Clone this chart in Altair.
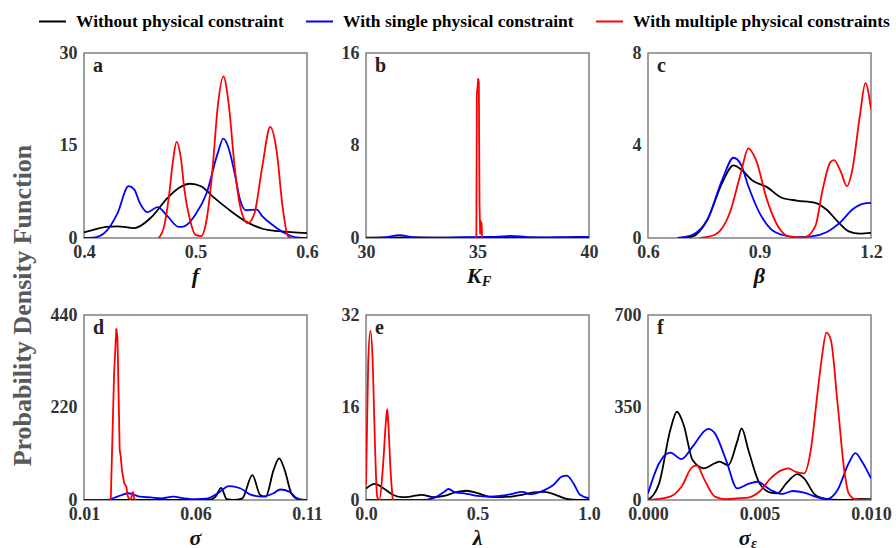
import altair as alt
import pandas as pd

SERIF = "Times New Roman, Liberation Serif, serif"
SERIES = ["Without physical constraint", "With single physical constraint",
          "With multiple physical constraints"]
COLORS = ["#000000", "#0000ff", "#ff0000"]

# ---- panel a: f ----
A_BLACK = [(0.400, 0.9), (0.410, 1.4), (0.420, 1.8), (0.430, 1.9), (0.445, 1.6), (0.460, 3.3),
           (0.475, 6.5), (0.485, 8.1), (0.495, 8.8), (0.505, 8.4), (0.515, 6.8), (0.530, 4.6),
           (0.545, 2.7), (0.560, 1.5), (0.575, 1.1), (0.600, 0.8)]
A_BLUE = [(0.400, 0.0), (0.410, 0.1), (0.420, 1.1), (0.430, 4.0), (0.440, 8.4), (0.445, 7.9),
          (0.450, 5.7), (0.457, 4.2), (0.466, 5.0), (0.475, 3.5), (0.485, 1.8), (0.490, 1.9),
          (0.500, 3.8), (0.510, 7.3), (0.520, 13.8), (0.525, 16.1), (0.530, 14.4), (0.535, 10.6),
          (0.540, 6.2), (0.545, 4.5), (0.555, 4.6), (0.560, 3.5), (0.570, 2.0), (0.580, 0.8),
          (0.590, 0.1), (0.600, 0.0)]
A_RED = [(0.467, 0.0), (0.472, 2.0), (0.476, 6.5), (0.480, 12.8), (0.483, 15.6), (0.487, 12.8),
         (0.490, 7.9), (0.495, 3.0), (0.500, 0.5), (0.505, 0.3), (0.510, 3.0), (0.515, 10.6),
         (0.520, 21.4), (0.525, 26.2), (0.530, 21.4), (0.535, 11.7), (0.540, 5.2), (0.547, 2.4),
         (0.553, 4.1), (0.560, 11.7), (0.567, 18.0), (0.573, 13.8), (0.578, 5.2), (0.583, 0.3),
         (0.586, 0.0)]

# ---- panel b: K_F ----
B_BLACK = [(30, 0.02), (32, 0.05), (34, 0.03), (36, 0.05), (38, 0.03), (40, 0.02)]
B_BLUE = [(30, 0.0), (30.8, 0.05), (31.5, 0.25), (32.2, 0.05), (33, 0.02), (34, 0.05), (35, 0.08),
          (35.8, 0.1), (36.5, 0.18), (37.2, 0.08), (38, 0.05), (39, 0.08), (40, 0.1)]
B_RED = [(34.90, 0.0), (34.95, 0.2), (34.97, 12.4), (35.00, 13.0), (35.03, 13.8), (35.06, 13.4),
         (35.09, 3.0), (35.12, 0.3), (35.15, 1.4), (35.18, 1.3), (35.21, 0.0)]

# ---- panel c: beta ----
C_BLACK = [(0.68, 0.0), (0.72, 0.07), (0.76, 0.8), (0.80, 2.4), (0.83, 3.14), (0.85, 2.97),
           (0.88, 2.5), (0.92, 2.2), (0.96, 1.74), (1.00, 1.62), (1.05, 1.52), (1.08, 1.23),
           (1.11, 0.72), (1.14, 0.29), (1.17, 0.19), (1.20, 0.22)]
C_BLUE = [(0.68, 0.0), (0.72, 0.14), (0.76, 0.8), (0.80, 2.53), (0.83, 3.47), (0.85, 3.18),
          (0.87, 2.24), (0.90, 1.09), (0.93, 0.39), (0.96, 0.14), (1.00, 0.04), (1.04, 0.07),
          (1.08, 0.25), (1.12, 0.72), (1.15, 1.23), (1.18, 1.49), (1.20, 1.52)]
C_RED = [(0.74, 0.0), (0.78, 0.14), (0.82, 1.09), (0.85, 2.82), (0.87, 3.88), (0.89, 3.4),
         (0.92, 1.66), (0.95, 0.5), (0.98, 0.07), (1.02, 0.03), (1.05, 0.5), (1.07, 2.1),
         (1.09, 3.26), (1.10, 3.37), (1.12, 2.82), (1.135, 2.24), (1.15, 2.97), (1.17, 5.28),
         (1.185, 6.7), (1.20, 5.57)]

# ---- panel d: sigma ----
D_BLACK = [(0.010, 0), (0.066, 0), (0.069, 8), (0.0715, 29), (0.074, 2), (0.077, 0), (0.081, 4),
           (0.0855, 59), (0.089, 12), (0.0915, 8), (0.095, 71), (0.0975, 99), (0.100, 71),
           (0.103, 16), (0.106, 2), (0.110, 0)]
D_BLUE = [(0.010, 0), (0.020, 0), (0.025, 8), (0.030, 16), (0.035, 8), (0.040, 6), (0.045, 4),
          (0.050, 8), (0.055, 4), (0.060, 2), (0.065, 3), (0.070, 16), (0.075, 33), (0.080, 28),
          (0.085, 12), (0.090, 8), (0.095, 16), (0.098, 25), (0.102, 20), (0.105, 6), (0.108, 0),
          (0.110, 0)]
D_RED = [(0.0220, 0), (0.0235, 301), (0.0245, 408), (0.0250, 388), (0.0255, 254), (0.0260, 119),
         (0.0265, 103), (0.0270, 71), (0.0275, 56), (0.0280, 40), (0.0290, 32), (0.0295, 12),
         (0.0300, 4), (0.0310, 0), (0.0315, 12), (0.0320, 20), (0.0325, 4), (0.0330, 0)]

# ---- panel e: lambda ----
E_BLACK = [(0.0, 2.0), (0.04, 2.8), (0.08, 2.0), (0.12, 0.9), (0.16, 0.5), (0.20, 0.6), (0.25, 0.9),
           (0.30, 0.5), (0.35, 0.7), (0.40, 1.3), (0.45, 1.6), (0.50, 1.2), (0.55, 0.6), (0.60, 0.5),
           (0.65, 0.6), (0.70, 0.9), (0.75, 1.3), (0.80, 1.4), (0.85, 0.9), (0.90, 0.2), (0.95, 0.0),
           (1.0, 0.0)]
E_BLUE = [(0.0, 0.0), (0.25, 0.0), (0.30, 0.3), (0.35, 1.4), (0.37, 1.9), (0.40, 1.3), (0.43, 1.2),
          (0.46, 1.0), (0.50, 0.7), (0.55, 0.6), (0.60, 0.7), (0.65, 1.0), (0.70, 1.4), (0.74, 1.0),
          (0.80, 1.7), (0.84, 2.6), (0.88, 4.1), (0.90, 4.2), (0.93, 2.9), (0.96, 0.9), (1.0, 0.3)]
E_RED = [(0.0, 2.6), (0.01, 24.0), (0.02, 29.3), (0.03, 24.0), (0.04, 9.9), (0.05, 0.6), (0.06, 0.0),
         (0.075, 5.2), (0.09, 13.9), (0.095, 15.7), (0.10, 13.3), (0.11, 5.2), (0.12, 0.0)]

# ---- panel f: sigma_epsilon ----
F_BLACK = [(0, 0), (0.0005, 63), (0.001, 265), (0.0013, 334), (0.0016, 284), (0.002, 151),
           (0.0025, 120), (0.003, 139), (0.0032, 145), (0.0036, 132), (0.004, 221), (0.0042, 271),
           (0.0045, 189), (0.005, 63), (0.0055, 28), (0.0058, 25), (0.0062, 63), (0.0067, 98),
           (0.007, 82), (0.0075, 19), (0.008, 4), (0.0085, 0), (0.009, 0), (0.0095, 4), (0.01, 3)]
F_BLUE = [(0, 25), (0.0005, 139), (0.001, 179), (0.0015, 155), (0.002, 202), (0.0027, 269),
          (0.003, 252), (0.0035, 151), (0.004, 44), (0.0045, 61), (0.0049, 69), (0.0055, 38),
          (0.006, 23), (0.0065, 34), (0.007, 28), (0.0075, 13), (0.008, 3), (0.0085, 38),
          (0.009, 139), (0.0093, 177), (0.0096, 145), (0.01, 82)]
F_RED = [(0, 0), (0.001, 13), (0.0015, 50), (0.002, 126), (0.0022, 130), (0.0025, 82), (0.003, 13),
         (0.0035, 3), (0.004, 6), (0.0045, 9), (0.005, 32), (0.0055, 82), (0.006, 113), (0.0063, 120),
         (0.0066, 107), (0.007, 101), (0.0073, 189), (0.0076, 404), (0.0078, 542), (0.008, 633),
         (0.0082, 605), (0.0085, 366), (0.0088, 113), (0.009, 25), (0.0093, 3), (0.01, 0)]

W, H = 223, 185

LEGEND = alt.Legend(
    title=None, orient="none", legendX=-46, legendY=-46, direction="horizontal",
    symbolType="stroke", symbolSize=729, symbolStrokeWidth=2, labelFont=SERIF,
    labelFontWeight="bold", labelFontSize=17.5, labelColor="#000000", labelLimit=400,
    columnPadding=18, labelOffset=9,
)


def panel(letter, main, sub, sub_dx, data, xdom, xticks, xfmt, ydom, yticks, interps, ytitle=False):
    yaxis_kw = dict(values=yticks, format="d", title=None, labelPadding=7)
    if ytitle:
        yaxis_kw.update(
            title="Probability Density Function", titleX=-62, titleY=252, titleAngle=-90,
            titleAlign="center", titleBaseline="middle", titleFont=SERIF, titleFontSize=26,
            titleFontWeight="bold", titleColor="#595959",
        )
    x_enc = alt.X("x:Q", scale=alt.Scale(domain=xdom, nice=False, zero=False),
                  axis=alt.Axis(values=xticks, format=xfmt, title=None, labelPadding=5))
    y_enc = alt.Y("y:Q", scale=alt.Scale(domain=ydom, nice=False),
                  axis=alt.Axis(**yaxis_kw))
    layers = []
    for name, pts, interp in zip(SERIES, data, interps):
        df = pd.DataFrame(pts, columns=["x", "y"])
        df["series"] = name
        layers.append(
            alt.Chart(df).mark_line(strokeWidth=1.8, interpolate=interp, clip=True).encode(
                x=x_enc, y=y_enc,
                color=alt.Color("series:N", scale=alt.Scale(domain=SERIES, range=COLORS),
                                legend=LEGEND),
            )
        )
    text_base = alt.Chart(pd.DataFrame({"t": [letter]}))
    layers.append(
        text_base.mark_text(align="left", baseline="alphabetic", font=SERIF, fontSize=20,
                            fontWeight="bold", color="#222222")
        .encode(text="t:N", x=alt.value(9), y=alt.value(19))
    )
    if sub:
        layers.append(
            alt.Chart(pd.DataFrame({"t": [main]})).mark_text(
                align="right", baseline="alphabetic", font=SERIF, fontSize=22,
                fontWeight="bold", fontStyle="italic", color="#111111")
            .encode(text="t:N", x=alt.value(W / 2 + sub_dx), y=alt.value(H + 45))
        )
        layers.append(
            alt.Chart(pd.DataFrame({"t": [sub]})).mark_text(
                align="left", baseline="alphabetic", font=SERIF, fontSize=14,
                fontWeight="bold", fontStyle="italic", color="#111111")
            .encode(text="t:N", x=alt.value(W / 2 + sub_dx + 0.5), y=alt.value(H + 48))
        )
    else:
        layers.append(
            alt.Chart(pd.DataFrame({"t": [main]})).mark_text(
                align="center", baseline="alphabetic", font=SERIF, fontSize=22,
                fontWeight="bold", fontStyle="italic", color="#111111")
            .encode(text="t:N", x=alt.value(W / 2), y=alt.value(H + 45))
        )
    return alt.layer(*layers).properties(width=W, height=H)


SMOOTH = ["monotone", "monotone", "monotone"]
panels = [
    panel("a", "f", None, 0, [A_BLACK, A_BLUE, A_RED], [0.4, 0.6], [0.4, 0.5, 0.6], ".1f",
          [0, 30], [0, 15, 30], SMOOTH, ytitle=True),
    panel("b", "K", "F", 4, [B_BLACK, B_BLUE, B_RED], [30, 40], [30, 35, 40], "d",
          [0, 16], [0, 8, 16], ["monotone", "monotone", "linear"]),
    panel("c", "β", None, 0, [C_BLACK, C_BLUE, C_RED], [0.6, 1.2], [0.6, 0.9, 1.2], ".1f",
          [0, 8], [0, 4, 8], SMOOTH),
    panel("d", "σ", None, 0, [D_BLACK, D_BLUE, D_RED], [0.01, 0.11], [0.01, 0.06, 0.11], ".2f",
          [0, 440], [0, 220, 440], ["monotone", "monotone", "linear"]),
    panel("e", "λ", None, 0, [E_BLACK, E_BLUE, E_RED], [0, 1], [0, 0.5, 1], ".1f",
          [0, 32], [0, 16, 32], SMOOTH),
    panel("f", "σ", "ε", -9, [F_BLACK, F_BLUE, F_RED], [0, 0.01], [0, 0.005, 0.01], ".3f",
          [0, 700], [0, 350, 700], SMOOTH),
]

chart = (
    alt.concat(*panels, columns=3, spacing={"row": 77, "column": 59}, bounds="flush")
    .resolve_scale(x="independent", y="independent", color="shared")
    .properties(padding={"left": 8, "top": 7, "right": 0, "bottom": 12})
    .configure_view(stroke="#808080", strokeWidth=1.5)
    .configure_axis(
        labelFont=SERIF, labelFontWeight="bold", labelFontSize=18, labelColor="#333333",
        ticks=False, domain=False, grid=False, labelFlush=False, labelOverlap=False,
    )
)

chart.save("out.html", embed_options={"renderer": "svg", "actions": False})
